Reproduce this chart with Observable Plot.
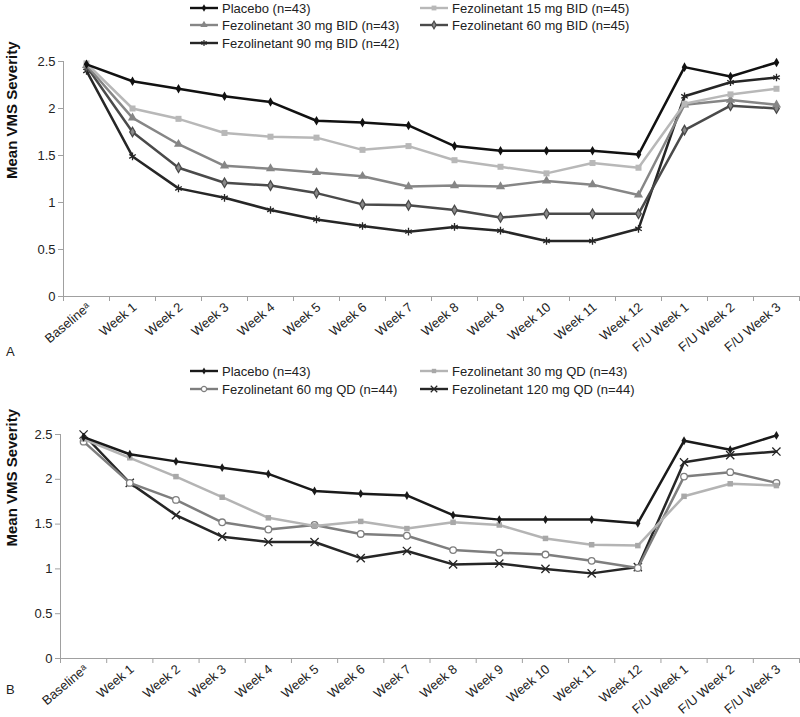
<!DOCTYPE html>
<html><head><meta charset="utf-8">
<script src="https://cdn.jsdelivr.net/npm/d3@7"></script>
<script src="https://cdn.jsdelivr.net/npm/@observablehq/plot@0.6"></script>
<style>
body{margin:0;background:#fff;font-family:"Liberation Sans",Arial,sans-serif;}
#root{position:relative;width:800px;height:717px;overflow:hidden;background:#fff;}
.leg{position:absolute;height:16px;font-size:13px;color:#222;display:flex;align-items:center;white-space:nowrap;}
.leg svg{margin-right:4px;flex:none;}
.panel{position:absolute;left:0;}
.plabel{position:absolute;left:6px;font-size:13px;color:#222;}
</style></head><body><div id="root"></div>
<script>
// ---------- data ----------
const categories = ["Baselineᵃ","Week 1","Week 2","Week 3","Week 4","Week 5","Week 6","Week 7","Week 8","Week 9","Week 10","Week 11","Week 12","F/U Week 1","F/U Week 2","F/U Week 3"];
const yTicks = [0, 0.5, 1, 1.5, 2, 2.5];

// Panel A (BID)
const placeboA = [2.47,2.29,2.21,2.13,2.07,1.87,1.85,1.82,1.60,1.55,1.55,1.55,1.51,2.44,2.34,2.49];
const fez15BID = [2.48,2.00,1.89,1.74,1.70,1.69,1.56,1.60,1.45,1.38,1.31,1.42,1.37,2.05,2.15,2.21];
const fez30BID = [2.46,1.90,1.62,1.39,1.36,1.32,1.28,1.17,1.18,1.17,1.23,1.19,1.08,2.04,2.09,2.04];
const fez60BID = [2.45,1.75,1.37,1.21,1.18,1.10,0.98,0.97,0.92,0.84,0.88,0.88,0.88,1.77,2.03,2.00];
const fez90BID = [2.40,1.49,1.15,1.05,0.92,0.82,0.75,0.69,0.74,0.70,0.59,0.59,0.72,2.13,2.28,2.33];
const labelsA = ["Placebo (n=43)","Fezolinetant 15 mg BID (n=45)","Fezolinetant 30 mg BID (n=43)","Fezolinetant 60 mg BID (n=45)","Fezolinetant 90 mg BID (n=42)"];

// Panel B (QD)
const placeboB = [2.47,2.28,2.20,2.13,2.06,1.87,1.84,1.82,1.60,1.55,1.55,1.55,1.51,2.43,2.33,2.49];
const fez30QD  = [2.45,2.24,2.03,1.80,1.57,1.48,1.53,1.45,1.52,1.49,1.34,1.27,1.26,1.81,1.95,1.93];
const fez60QD  = [2.42,1.96,1.77,1.52,1.44,1.49,1.39,1.37,1.21,1.18,1.16,1.09,1.01,2.03,2.08,1.96];
const fez120QD = [2.50,1.96,1.60,1.36,1.30,1.30,1.12,1.20,1.05,1.06,1.00,0.95,1.02,2.19,2.27,2.31];
const labelsB = ["Placebo (n=43)","Fezolinetant 30 mg QD (n=43)","Fezolinetant 60 mg QD (n=44)","Fezolinetant 120 mg QD (n=44)"];

// ---------- styles ----------
const seriesA = [
  {name: labelsA[0], values: placeboA, color:"#111", symbol:"diamond", fill:"#111", mstroke:"none", r:2.9},
  {name: labelsA[1], values: fez15BID, color:"#b8b8b8", symbol:"square", fill:"#b8b8b8", mstroke:"none", r:3.4},
  {name: labelsA[2], values: fez30BID, color:"#868686", symbol:"triangle", fill:"#868686", mstroke:"none", r:3.4},
  {name: labelsA[3], values: fez60BID, color:"#4a4a4a", symbol:"diamond", fill:"#8a8a8a", mstroke:"#4a4a4a", r:2.9},
  {name: labelsA[4], values: fez90BID, color:"#262626", symbol:"asterisk", fill:"none", mstroke:"#262626", r:3.6}
];
const seriesB = [
  {name: labelsB[0], values: placeboB, color:"#1a1a1a", symbol:"diamond", fill:"#1a1a1a", mstroke:"none", r:2.7},
  {name: labelsB[1], values: fez30QD, color:"#b4b4b4", symbol:"square", fill:"#a8a8a8", mstroke:"none", r:3.1},
  {name: labelsB[2], values: fez60QD, color:"#7e7e7e", symbol:"circle", fill:"#fff", mstroke:"#7e7e7e", r:3.3},
  {name: labelsB[3], values: fez120QD, color:"#262626", symbol:"times", fill:"none", mstroke:"#262626", r:3.8}
];

const root = document.getElementById("root");
const symMap = {diamond:d3.symbolDiamond, square:d3.symbolSquare, triangle:d3.symbolTriangle, asterisk:d3.symbolAsterisk, times:d3.symbolTimes, circle:d3.symbolCircle};

function legendItem(s, left, cy) {
  const div = document.createElement("div");
  div.className = "leg";
  div.style.left = left + "px";
  div.style.top = (cy - 8) + "px";
  const lr = s.r * 0.8;
  const path = d3.symbol(symMap[s.symbol], Math.PI * lr * lr)();
  div.innerHTML = `<svg width="28" height="16"><line x1="0" x2="28" y1="8" y2="8" stroke="${s.color}" stroke-width="2.4"/><path transform="translate(14,8)" d="${path}" fill="${s.fill}" stroke="${s.mstroke}" stroke-width="1.2"/></svg><span>${s.name}</span>`;
  root.appendChild(div);
}

function panel(series, {top, height, marginTop, marginBottom, marginLeft}) {
  const marks = [
    Plot.ruleY([0], {stroke:"#a0a0a0", strokeWidth:1}),
    Plot.ruleX([0], {stroke:"#a0a0a0", strokeWidth:1}),
    Plot.axisY({ticks: yTicks, tickSize: 5, tickPadding: 3, tickFormat: d => String(d), fontSize: 13, stroke:"#a0a0a0", fill:"#222", label: null}),
    Plot.axisX({ticks: d3.range(categories.length + 1), tickSize: 5, tickFormat: () => "", stroke:"#a0a0a0", label: null}),
    Plot.text(categories, {x: (d, i) => i + 0.5, frameAnchor: "bottom", text: d => d, rotate: -40, textAnchor: "end", dx: 5, dy: 12, fontSize: 13, fill: "#222"}),
    Plot.text(["Mean VMS Severity"], {frameAnchor: "left", text: d => d, rotate: -90, dx: -(marginLeft - 12), fontSize: 15, fontWeight: "bold", fill: "#111"})
  ];
  for (const s of series.slice().reverse()) {
    const rows = s.values.map((v, i) => ({x: i + 0.5, v}));
    marks.push(Plot.line(rows, {x: "x", y: "v", stroke: s.color, strokeWidth: 2.5}));
    marks.push(Plot.dot(rows, {x: "x", y: "v", symbol: s.symbol, r: s.r, fill: s.fill, stroke: s.mstroke, strokeWidth: 1.3}));
  }
  const svg = Plot.plot({
    width: 800, height, marginTop, marginBottom, marginLeft, marginRight: 1,
    style: {fontFamily: '"Liberation Sans", Arial, sans-serif', background: "#fff", overflow: "visible"},
    x: {type: "linear", domain: [0, categories.length], axis: null},
    y: {domain: [0, 2.5], axis: null},
    marks
  });
  svg.classList.add("panel");
  svg.style.top = top + "px";
  root.appendChild(svg);
}

// Panel A
legendItem(seriesA[0], 190, 8);
legendItem(seriesA[1], 420, 8);
legendItem(seriesA[2], 190, 25);
legendItem(seriesA[3], 420, 25);
legendItem(seriesA[4], 190, 43);
panel(seriesA, {top: 50, height: 312, marginTop: 11, marginBottom: 66, marginLeft: 63});

// Panel B
legendItem(seriesB[0], 190, 371);
legendItem(seriesB[1], 420, 371);
legendItem(seriesB[2], 190, 389);
legendItem(seriesB[3], 420, 389);
panel(seriesB, {top: 425, height: 292, marginTop: 9, marginBottom: 59, marginLeft: 60});

const la = document.createElement("div"); la.className = "plabel"; la.style.top = "344px"; la.textContent = "A"; root.appendChild(la);
const lb = document.createElement("div"); lb.className = "plabel"; lb.style.top = "682px"; lb.textContent = "B"; root.appendChild(lb);
</script></body></html>
